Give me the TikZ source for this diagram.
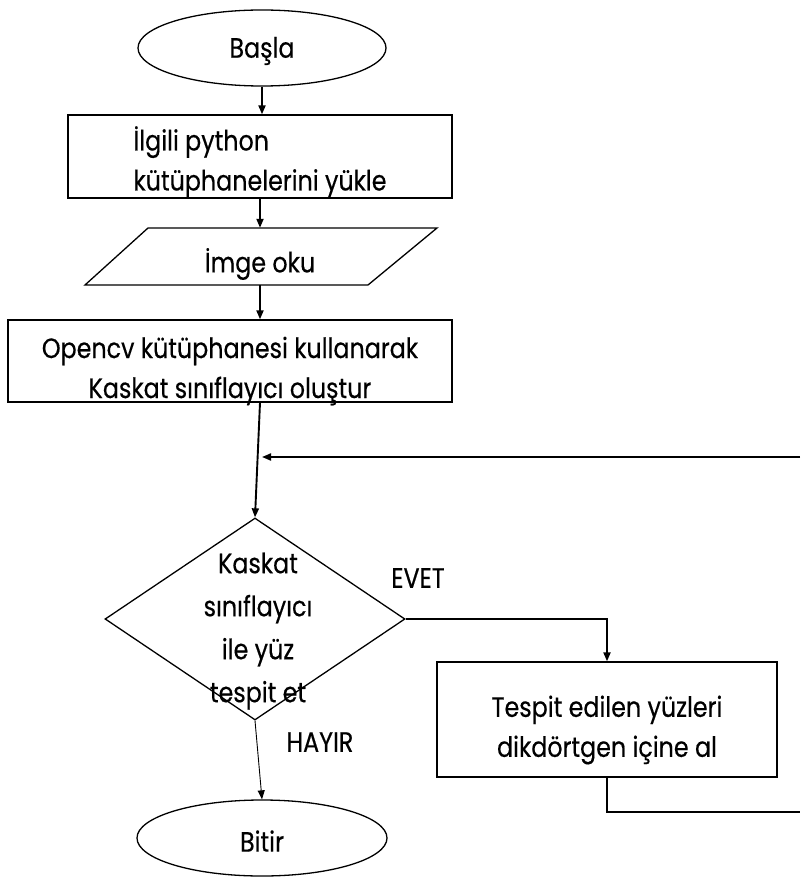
\documentclass[tikz,border=0pt]{standalone}
\usepackage{fontspec}
\setmainfont[FakeStretch=0.85,FakeBold=0.4]{Poppins}
\usetikzlibrary{shapes.geometric,arrows.meta}
\begin{document}
\begin{tikzpicture}[x=1pt,y=-1pt,
  txt/.style={font=\fontsize{28}{40}\selectfont,inner sep=0pt},
  term/.style={ellipse,draw,line width=1.3pt,minimum width=248pt,minimum height=76pt,inner sep=0pt},
  proc/.style={rectangle,draw,line width=1.3pt,inner sep=0pt},
  arr/.style={line width=1.9pt,-{Triangle[length=9pt,width=7pt]}},
  thinarr/.style={line width=0.9pt,-{Triangle[length=9pt,width=7pt]}},
  plain/.style={line width=1.9pt}]
\useasboundingbox (0,0) rectangle (800,890);
% shapes
\node[term] (start) at (262,48) {};
\node[proc,minimum width=384pt,minimum height=83pt] (libs) at (260,156.5) {};
\draw[line width=1.3pt] (148,228) -- (437,228) -- (368,285) -- (85,285) -- cycle;
\node[minimum width=200pt,minimum height=57pt,inner sep=0pt] (read) at (260,256.5) {};
\node[proc,minimum width=444pt,minimum height=82pt] (cls) at (230,361) {};
\node[diamond,draw,line width=1.3pt,minimum width=300pt,minimum height=202pt,inner sep=0pt] (q) at (255,619) {};
\node[proc,minimum width=340pt,minimum height=115pt] (draw) at (607,719.5) {};
\node[term,minimum width=250pt] (end) at (262,838) {};
% texts
\node[txt] (startt) at (262,51) {Başla};
\node[txt,align=left] (libst) at (260,162) {İlgili python\\kütüphanelerini yükle};
\node[txt] (readt) at (260,264) {İmge oku};
\node[txt,align=center] (clst) at (230,371) {Opencv kütüphanesi kullanarak\\Kaskat sınıflayıcı oluştur};
\node[txt,align=center,font=\fontsize{28}{43}\selectfont] (qt) at (258,631) {Kaskat\\sınıflayıcı\\ile yüz\\tespit et};
\node[txt,align=center] (drawt) at (607,730) {Tespit edilen yüzleri\\dikdörtgen içine al};
\node[txt] (endt) at (262,841) {Bitir};
\node[txt] (evet) at (418,578) {EVET};
\node[txt] (hayir) at (320,742) {HAYIR};
% connectors
\coordinate (fb) at (800,457);
\coordinate (join) at (262,457);
\coordinate (ret) at (800,812);
\draw[arr] (start.south) -- (start.south |- libs.north);
\draw[arr] (libs.south) -- (read.north);
\draw[arr] (read.south) -- (read.south |- cls.north);
\draw[arr] (cls.south -| read.south) -- (q.north);
\draw[arr] (fb) -- (join);
\draw[arr] (q.east) -| (draw.north);
\draw[plain] (draw.south) |- (ret);
\draw[thinarr] (q.south) -- (end.north);
\end{tikzpicture}
\end{document}
